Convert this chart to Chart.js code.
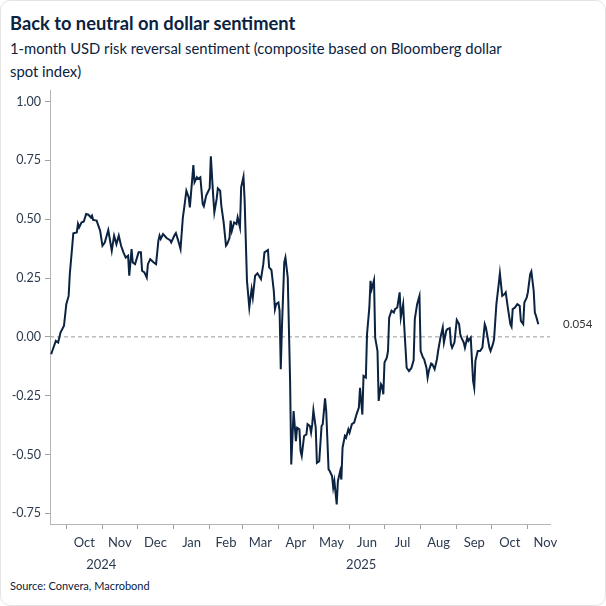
<!DOCTYPE html>
<html>
<head>
<meta charset="utf-8">
<script src="https://cdn.jsdelivr.net/npm/chart.js@4/dist/chart.umd.min.js"></script>
<style>
  body{margin:0;background:#fff;font-family:Lato,"Open Sans",sans-serif;color:#0b2240;}
  #card{position:relative;width:604px;height:604px;border:1px solid #e4e4e4;border-radius:10px;overflow:hidden;}
  #title{position:absolute;left:9px;top:10px;font-size:18.3px;font-weight:bold;line-height:24px;color:#0b2240;}
  #subtitle{position:absolute;left:9px;top:36px;width:520px;font-size:14.8px;line-height:23px;color:#0b2240;}
  #source{position:absolute;left:9px;top:578px;font-size:11px;line-height:14px;color:#0b2240;}
  #chart{position:absolute;left:0;top:70px;}
</style>
</head>
<body>
<div id="card">
  <div id="title">Back to neutral on dollar sentiment</div>
  <div id="subtitle">1-month USD risk reversal sentiment (composite based on Bloomberg dollar spot index)</div>
  <canvas id="chart" width="604" height="505"></canvas>
  <div id="source">Source: Convera, Macrobond</div>
</div>
<script>
// x values are days counted from 1 Jan 2025 (negative = 2024)
const days = [
  -105,-103,-101,-99,-97,-94,-92,-90,-89,-87,-86,-83,-82,-81,-79,-77,-75,-73,-71,-70,-69,-66,-63,-61,-59,-56,
  -53,-51,-49,-47,-45,-43,-41,-39,-38,-36,-35,-33,-30,-28,-27,-25,-23,-22,-20,-17,-15,-13,-12,-11,-9,-6,-3,-2,1,
  2,4,6,8,9,11,13,14,17,18,20,21,23,25,26,28,30,31,32,34,35,37,38,40,41,43,45,46,48,49,50,52,
  54,55,57,58,60,61,63,65,66,67,68,70,72,75,77,78,81,82,84,86,87,88,90,91,92,93,95,96,98,100,101,
  103,105,106,108,109,110,112,114,115,117,118,119,120,122,123,125,127,128,130,131,133,134,136,137,138,140,141,143,144,145,147,148,150,151,153,155,
  157,159,160,162,163,165,166,168,169,170,172,173,175,176,178,179,180,181,183,184,185,187,189,190,192,194,195,197,198,200,202,204,206,
  207,209,211,212,214,215,217,218,219,221,222,224,226,227,229,231,232,234,235,237,238,239,241,243,245,246,247,249,250,252,
  253,255,257,258,259,261,263,265,267,268,269,271,272,274,275,277,279,280,282,284,285,287,289,290,291,293,295,297,298,300,
  301,303,304,306,307,309,310,311,313
];
const sentiment = [
  -0.074,-0.045,-0.017,-0.024,0.018,0.047,0.139,0.174,0.267,0.38,0.44,0.444,0.48,0.465,0.486,0.49,0.522,0.519,0.508,0.515,0.497,0.494,0.451,0.387,0.401,0.454,
  0.366,0.43,0.394,0.43,0.387,0.359,0.337,0.345,0.26,0.373,0.316,0.309,0.359,0.359,0.281,0.274,0.252,0.309,0.33,0.316,0.309,0.409,0.43,0.416,0.437,0.42,0.411,0.401,0.434,
  0.441,0.409,0.373,0.508,0.543,0.621,0.593,0.55,0.73,0.657,0.678,0.671,0.678,0.565,0.555,0.6,0.621,0.631,0.767,0.6,0.529,0.586,0.631,0.621,0.557,0.486,0.387,0.394,0.42,0.494,0.45,0.486,
  0.479,0.508,0.465,0.635,0.68,0.579,0.238,0.125,0.167,0.203,0.167,0.26,0.27,0.245,0.309,0.359,0.369,0.295,0.284,0.196,0.118,0.139,0.146,0.111,-0.137,0.04,0.316,0.337,0.252,-0.187,-0.542,
  -0.315,-0.443,-0.386,-0.393,-0.485,-0.506,-0.421,-0.414,-0.371,-0.379,-0.407,-0.371,-0.312,-0.386,-0.535,-0.528,-0.379,-0.371,-0.261,-0.315,-0.563,-0.57,-0.591,-0.641,-0.613,-0.712,-0.613,-0.57,-0.606,-0.471,-0.421,-0.428,-0.393,-0.407,-0.371,-0.364,
  -0.329,-0.3,-0.216,-0.33,-0.166,-0.173,0.011,0.125,0.238,0.203,0.241,-0.003,-0.06,-0.272,-0.201,-0.209,-0.244,-0.109,-0.088,-0.06,0.082,0.111,0.103,0.118,0.125,0.189,0.082,0.139,0.04,-0.131,-0.145,-0.133,-0.1,
  0.075,0.139,0.174,-0.06,-0.088,-0.095,-0.131,-0.173,-0.145,-0.113,-0.116,-0.137,-0.095,-0.06,-0.003,0.04,-0.024,0.026,0.033,0.037,-0.031,-0.046,-0.024,0.072,0.054,0.011,-0.003,-0.024,-0.046,-0.003,
  -0.017,-0.003,-0.187,-0.216,-0.102,-0.06,-0.06,-0.046,0.054,0.04,0.011,-0.046,-0.06,-0.031,-0.01,0.139,0.224,0.27,0.174,0.182,0.189,0.118,0.054,0.043,0.118,0.125,0.139,0.132,0.068,0.054,
  0.146,0.167,0.189,0.267,0.278,0.196,0.103,0.089,0.054
];

const yTicks = [-0.75,-0.5,-0.25,0,0.25,0.5,0.75,1];
const monthLabels = ['Oct','Nov','Dec','Jan','Feb','Mar','Apr','May','Jun','Jul','Aug','Sep','Oct','Nov'];
// first day of each month, Oct 2024 .. Dec 2025
const monthStarts = [-92,-61,-31,0,31,59,90,120,151,181,212,243,273,304,334];
const yearLabels = ['2024','2025'];
const yearCentres = [-62,161];

const xMin = -106, xMax = 323;
const textCol = '#2b3a4f', axisCol = '#b5b5b5';

Chart.defaults.font.family = 'Lato, "Open Sans", sans-serif';
Chart.defaults.color = textCol;

// month ticks: a mark at each month start, a label in the middle of the month
const monthTicks = [];
monthLabels.forEach((m,i)=>{
  monthTicks.push({value:monthStarts[i], label:''});
  monthTicks.push({value:(monthStarts[i]+monthStarts[i+1])/2, label:m});
});

const last = sentiment[sentiment.length-1];

new Chart(document.getElementById('chart'), {
  type:'line',
  data:{
    datasets:[
      {data:days.map((d,i)=>({x:d,y:sentiment[i]})), borderColor:'#0b2240', borderWidth:2, pointRadius:0, tension:0},
      {data:[{x:xMin,y:0},{x:xMax,y:0}], borderColor:'#9a9a9a', borderWidth:1, borderDash:[4,3], pointRadius:0}
    ]
  },
  options:{
    responsive:false, animation:false,
    layout:{padding:{left:5, top:6, right:0, bottom:0}},
    plugins:{legend:{display:false}, tooltip:{enabled:false}},
    scales:{
      x:{
        type:'linear', min:xMin, max:xMax,
        afterBuildTicks:s=>{ s.ticks = monthTicks.map(t=>({value:t.value})); },
        afterFit:s=>{ s.height = 30; },
        ticks:{autoSkip:false, maxRotation:0, padding:6, font:{size:13},
          callback:(v,i)=>monthTicks[i] ? monthTicks[i].label : ''},
        grid:{drawOnChartArea:false, tickLength:5,
          tickColor:c=>(c.tick && monthStarts.includes(c.tick.value)) ? '#a0a0a0' : 'transparent'},
        border:{color:axisCol}
      },
      xYear:{
        type:'linear', position:'bottom', min:xMin, max:xMax,
        afterBuildTicks:s=>{ s.ticks = yearCentres.map(v=>({value:v})); },
        afterFit:s=>{ s.height = 22; },
        ticks:{autoSkip:false, maxRotation:0, padding:3, font:{size:13},
          callback:(v,i)=>yearLabels[i]},
        grid:{display:false, drawTicks:false},
        border:{display:false}
      },
      y:{
        min:-0.795, max:1.045,
        afterBuildTicks:s=>{ s.ticks = yTicks.map(v=>({value:v})); },
        afterFit:s=>{ s.width = 44; },
        ticks:{padding:4, font:{size:12.5}, callback:v=>v.toFixed(2)},
        grid:{drawOnChartArea:false, tickLength:5, tickColor:'#a0a0a0'},
        border:{color:axisCol}
      },
      yLast:{
        position:'right', min:-0.795, max:1.045,
        afterBuildTicks:s=>{ s.ticks = [{value:last}]; },
        afterFit:s=>{ s.width = 55; },
        ticks:{padding:13, font:{size:11.5}, color:'#333', callback:v=>v.toFixed(3)},
        grid:{display:false, drawTicks:false},
        border:{display:false}
      }
    }
  }
});
</script>
</body>
</html>
